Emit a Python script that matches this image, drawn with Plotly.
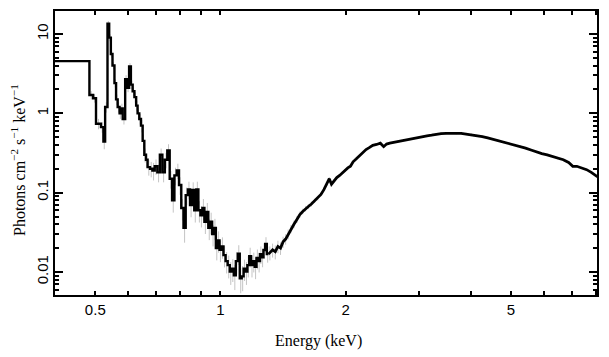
import math
import plotly.graph_objects as go

# ---------------- data ----------------
# lower edges of the spectral bins (keV)
e_lo = [
    # 0.3 - 0.668 keV
    0.300, 0.484, 0.494, 0.502, 0.516, 0.523, 0.528, 0.535, 0.540, 0.545,
    0.550, 0.556, 0.561, 0.566, 0.572, 0.577, 0.582, 0.590, 0.596, 0.603,
    0.609, 0.615, 0.621, 0.627, 0.632, 0.638, 0.644, 0.650, 0.656, 0.662,
    # 0.668 - 1.005 keV
    0.668, 0.677, 0.686, 0.695, 0.705, 0.715, 0.725, 0.735, 0.745, 0.755,
    0.765, 0.775, 0.785, 0.795, 0.805, 0.815, 0.825, 0.835, 0.845, 0.855,
    0.865, 0.875, 0.885, 0.895, 0.905, 0.915, 0.925, 0.935, 0.945, 0.955,
    0.965, 0.975, 0.985, 0.995,
    # 1.005 - 1.305 keV
    1.005, 1.017, 1.029, 1.041, 1.053, 1.065, 1.077, 1.089, 1.101, 1.113,
    1.125, 1.137, 1.149, 1.161, 1.173, 1.185, 1.197, 1.209, 1.221, 1.233,
    1.245, 1.257, 1.269, 1.281, 1.293,
    # 1.305 - 8.2 keV
    1.305, 1.325, 1.345, 1.365, 1.385, 1.405, 1.425, 1.445, 1.465, 1.49,
    1.515, 1.54, 1.565, 1.59, 1.615, 1.64, 1.67, 1.70, 1.73, 1.76,
    1.79, 1.815, 1.84, 1.86, 1.89, 1.92, 1.95, 1.98, 2.01, 2.04,
    2.07, 2.10, 2.14, 2.18, 2.22, 2.26, 2.30, 2.35, 2.40, 2.45,
    2.49, 2.53, 2.58, 2.64, 2.70, 2.76, 2.82, 2.89, 2.96, 3.03,
    3.10, 3.18, 3.26, 3.35, 3.44, 3.54, 3.64, 3.74, 3.85, 3.96,
    4.08, 4.20, 4.33, 4.46, 4.60, 4.74, 4.88, 5.03, 5.18, 5.34,
    5.50, 5.67, 5.84, 6.02, 6.20, 6.39, 6.58, 6.78, 6.98, 7.10,
    7.30, 7.50, 7.70, 7.90,
]
e_hi_last = 8.2
# above this energy the bins are narrow enough that the curve looks continuous
smooth_from = 1.305

# photons cm^-2 s^-1 keV^-1
flux = [
    4.55, 1.70, 1.55, 0.74, 0.67, 0.44, 1.20, 13.5, 9.0, 5.6,
    4.0, 2.4, 1.5, 1.2, 1.0, 1.15, 0.85, 2.7, 2.1, 3.9,
    2.3, 1.9, 1.6, 1.25, 1.0, 0.85, 0.70, 0.45, 0.30, 0.26,
    0.21, 0.20, 0.19, 0.215, 0.18, 0.30, 0.18, 0.26, 0.34, 0.15,
    0.08, 0.165, 0.19, 0.125, 0.064, 0.036, 0.093, 0.11, 0.07, 0.108,
    0.06, 0.11, 0.06, 0.052, 0.064, 0.043, 0.057, 0.036, 0.043, 0.030,
    0.036, 0.020, 0.025, 0.019,
    0.021, 0.0163, 0.0137, 0.0122, 0.0101, 0.011, 0.0091, 0.0137, 0.017, 0.0083,
    0.0088, 0.011, 0.0101, 0.0122, 0.0158, 0.0122, 0.0137, 0.0116, 0.015, 0.0137,
    0.0168, 0.0153, 0.0189, 0.0225, 0.0168,
    0.0175, 0.019, 0.018, 0.021, 0.020, 0.024, 0.026, 0.030, 0.035, 0.040,
    0.046, 0.053, 0.058, 0.063, 0.067, 0.072, 0.079, 0.085, 0.095, 0.11,
    0.128, 0.150, 0.128, 0.14, 0.155, 0.165, 0.178, 0.19, 0.205, 0.215,
    0.245, 0.265, 0.29, 0.32, 0.35, 0.37, 0.395, 0.405, 0.42, 0.38,
    0.41, 0.42, 0.43, 0.44, 0.45, 0.46, 0.47, 0.485, 0.49, 0.505,
    0.52, 0.53, 0.545, 0.555, 0.56, 0.565, 0.56, 0.56, 0.55, 0.54,
    0.525, 0.51, 0.49, 0.47, 0.45, 0.43, 0.42, 0.40, 0.385, 0.365,
    0.345, 0.325, 0.31, 0.30, 0.285, 0.27, 0.26, 0.24, 0.215, 0.215,
    0.205, 0.195, 0.18, 0.16,
]

# relative 1-sigma errors of each bin
rel_err = [
    0.08, 0.12, 0.12, 0.15, 0.15, 0.20, 0.15, 0.08, 0.10, 0.10,
    0.10, 0.12, 0.15, 0.15, 0.15, 0.15, 0.15, 0.12, 0.12, 0.10,
    0.12, 0.12, 0.15, 0.15, 0.15, 0.15, 0.18, 0.20, 0.20, 0.20,
    0.22, 0.22, 0.25, 0.22, 0.25, 0.20, 0.25, 0.22, 0.20, 0.25,
    0.30, 0.25, 0.22, 0.25, 0.30, 0.35, 0.25, 0.25, 0.30, 0.25,
    0.30, 0.25, 0.30, 0.30, 0.30, 0.30, 0.30, 0.30, 0.30, 0.30,
    0.30, 0.30, 0.30, 0.30,
    0.30, 0.30, 0.30, 0.32, 0.32, 0.32, 0.35, 0.30, 0.28, 0.35,
    0.35, 0.30, 0.32, 0.30, 0.28, 0.30, 0.28, 0.30, 0.28, 0.28,
    0.25, 0.25, 0.22, 0.22, 0.22,
    0.20, 0.20, 0.20, 0.18, 0.18, 0.16, 0.15, 0.14, 0.12, 0.11,
    0.10, 0.09, 0.08, 0.08, 0.07, 0.07, 0.06, 0.06, 0.05, 0.05,
    0.05, 0.05, 0.05, 0.04, 0.04, 0.04, 0.04, 0.04, 0.03, 0.03,
    0.03, 0.03, 0.03, 0.03, 0.03, 0.03, 0.03, 0.03, 0.03, 0.03,
    0.03, 0.03, 0.03, 0.03, 0.03, 0.03, 0.03, 0.03, 0.03, 0.03,
    0.03, 0.03, 0.03, 0.03, 0.03, 0.03, 0.03, 0.03, 0.03, 0.03,
    0.03, 0.03, 0.03, 0.03, 0.03, 0.03, 0.03, 0.03, 0.03, 0.03,
    0.03, 0.03, 0.03, 0.03, 0.03, 0.03, 0.03, 0.03, 0.03, 0.03,
    0.03, 0.03, 0.03, 0.03,
]

x_tick_vals = [0.5, 1, 2, 5]
x_tick_text = ["0.5", "1", "2", "5"]
x_minor_vals = [0.6, 0.7, 0.8, 0.9, 3, 4, 6, 7, 8]
y_tick_vals = [0.01, 0.1, 1, 10]
y_tick_text = ["0.01", "0.1", "1", "10"]
y_minor_vals = [0.006, 0.007, 0.008, 0.009,
                0.02, 0.03, 0.04, 0.05, 0.06, 0.07, 0.08, 0.09,
                0.2, 0.3, 0.4, 0.5, 0.6, 0.7, 0.8, 0.9,
                2, 3, 4, 5, 6, 7, 8, 9]

x_title = "Energy (keV)"
y_title = "Photons cm<sup>−2</sup> s<sup>−1</sup> keV<sup>−1</sup>"

# ---------------- derived ----------------
e_hi = e_lo[1:] + [e_hi_last]
centers = [math.sqrt(a * b) for a, b in zip(e_lo, e_hi)]
err = [f * r for f, r in zip(flux, rel_err)]
k = e_lo.index(smooth_from)

# step part (coarse / noisy bins)
step_x = e_lo[:k] + [e_lo[k]]
step_y = flux[:k] + [flux[k - 1]]
# continuous part (fine bins), joined to the end of the step part
cont_x = [e_lo[k]] + centers[k:] + [e_hi_last]
cont_y = [flux[k - 1]] + flux[k:] + [flux[-1]]

fig = go.Figure()

fig.add_trace(go.Scatter(
    x=centers, y=flux, mode="markers",
    marker=dict(size=1, color="rgba(0,0,0,0)"),
    error_y=dict(type="data", array=err, arrayminus=err,
                 color="#c4c4c4", thickness=1, width=0),
    hoverinfo="skip", showlegend=False,
))
fig.add_trace(go.Scatter(
    x=step_x, y=step_y, mode="lines",
    line=dict(shape="hv", color="black", width=2.4),
    showlegend=False,
))
fig.add_trace(go.Scatter(
    x=cont_x, y=cont_y, mode="lines",
    line=dict(shape="linear", color="black", width=2.8),
    showlegend=False,
))

tick_font = dict(family="Liberation Sans, Arial, sans-serif", size=15, color="black")
title_font = dict(family="Liberation Serif, Times New Roman, serif", size=16, color="black")

L, R, T, B = 55, 12, 11, 62
W, H = 609, 357
pw, ph = W - L - R, H - T - B

xr = [math.log10(0.4), math.log10(8.05)]
fig.update_layout(
    width=W, height=H,
    margin=dict(l=L, r=R, t=T, b=B, autoexpand=False),
    paper_bgcolor="white", plot_bgcolor="white",
    showlegend=False,
    xaxis=dict(
        type="log", range=xr, automargin=False,
        tickmode="array", tickvals=x_tick_vals, ticktext=x_tick_text,
        ticks="inside", ticklen=4, tickwidth=1.5, tickcolor="black",
        minor=dict(tickmode="array", tickvals=x_minor_vals, ticks="inside",
                   ticklen=4, tickwidth=1.5, tickcolor="black", showgrid=False),
        showline=True, linecolor="black", linewidth=1.5, mirror="allticks",
        showgrid=False, zeroline=False,
        tickfont=tick_font,
    ),
    xaxis2=dict(
        type="log", range=xr, overlaying="x", anchor="y", side="bottom",
        automargin=False,
        tickmode="array", tickvals=[1], ticks="inside", ticklen=8,
        tickwidth=1.5, tickcolor="black", showticklabels=False,
        showline=False, mirror="allticks", showgrid=False, zeroline=False,
    ),
    yaxis=dict(
        type="log", range=[-2.29, 1.29], automargin=False,
        tickmode="array", tickvals=y_tick_vals, ticktext=y_tick_text,
        tickangle=-90, ticklabelstandoff=-1,
        ticks="inside", ticklen=8, tickwidth=1.5, tickcolor="black",
        minor=dict(tickmode="array", tickvals=y_minor_vals, ticks="inside",
                   ticklen=4, tickwidth=1.5, tickcolor="black", showgrid=False),
        showline=True, linecolor="black", linewidth=1.5, mirror="allticks",
        showgrid=False, zeroline=False,
        tickfont=tick_font,
    ),
    annotations=[
        dict(text=x_title, xref="paper", yref="paper",
             x=(318 - L) / pw, y=(H - B - 341) / ph,
             xanchor="center", yanchor="middle", showarrow=False, font=title_font),
        dict(text=y_title, xref="paper", yref="paper",
             x=(18 - L) / pw, y=(H - B - 160) / ph, textangle=-90,
             xanchor="center", yanchor="middle", showarrow=False, font=title_font),
    ],
)

fig.write_html("out.html", config={"displayModeBar": False},
               post_script="document.body.style.margin='0px';")
